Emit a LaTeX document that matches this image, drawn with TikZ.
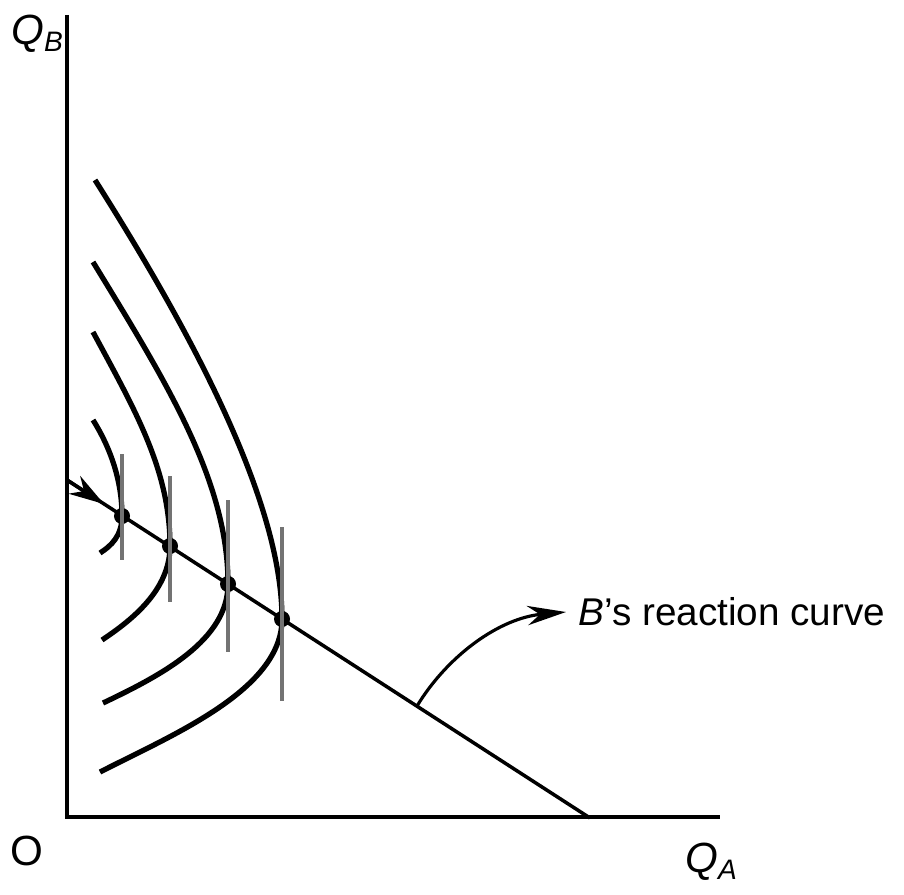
\documentclass[tikz,border=0pt]{standalone}
\usepackage{fontspec}
\setmainfont{Liberation Sans}
\usetikzlibrary{arrows.meta}

\begin{document}
\begin{tikzpicture}[x=0.01cm, y=-0.01cm, >=Stealth,
  axisline/.style={line width=1pt},
  iso/.style={line width=1.5pt},
  tickmark/.style={line width=0.9pt, black!55},
  dot/.style={circle, fill, inner sep=0pt, minimum size=0.16cm},
  axislabel/.style={font=\fontsize{12}{12}\selectfont\itshape}]
  \useasboundingbox (0,0) rectangle (904,894);

  % axes
  \coordinate (O) at (67,817);
  \coordinate (ytop) at (67,15);
  \coordinate (xend) at (720,817);
  \draw[axisline] (ytop) -- (O) -- (xend);
  \node[axislabel] (qb) at (38,34) {Q\textsubscript{B}};
  \node[axislabel] (qa) at (712,862) {Q\textsubscript{A}};
  \node[font=\fontsize{12}{12}\selectfont] (orig) at (27,851) {O};

  % reaction line
  \coordinate (r0) at (67,480);
  \coordinate (r1) at (590,818);
  \coordinate (rtip) at (104,504);
  \draw[axisline] (r0) -- (r1);
  \draw[-{Stealth[length=10pt,width=6pt]}, axisline] (r0) -- (rtip);

  % tangency points
  \node[dot] (e1) at (122,516) {};
  \node[dot] (e2) at (170,546) {};
  \node[dot] (e3) at (228,584) {};
  \node[dot] (e4) at (282,619) {};

  % isoprofit curves
  \draw[iso] (93,420) .. controls (110,447) and (122,480) .. (e1.center)
    .. controls (122,536) and (111,546) .. (100,553);
  \draw[iso] (93,332) .. controls (135,410) and (170,470) .. (e2.center)
    .. controls (170,590) and (132,620) .. (102,640);
  \draw[iso] (93,262) .. controls (165,380) and (228,480) .. (e3.center)
    .. controls (228,640) and (162,675) .. (103,703);
  \draw[iso] (95,180) .. controls (190,330) and (282,500) .. (e4.center)
    .. controls (282,690) and (172,735) .. (100,772);

  % vertical tangents
  \draw[tickmark] (e1) ++(0,-62) -- ++(0,106);
  \draw[tickmark] (e2) ++(0,-70) -- ++(0,126);
  \draw[tickmark] (e3) ++(0,-84) -- ++(0,152);
  \draw[tickmark] (e4) ++(0,-92) -- ++(0,174);

  % label
  \node[font=\fontsize{11}{11}\selectfont, anchor=west] (lbl) at (566,612) {\textit{B}'s reaction curve};
  \coordinate (cp) at (417,706);
  \draw[-{Stealth[length=11pt,width=5.5pt]}, line width=0.9pt] (cp) .. controls (448,655) and (500,618) .. (lbl.west);
\end{tikzpicture}
\end{document}
